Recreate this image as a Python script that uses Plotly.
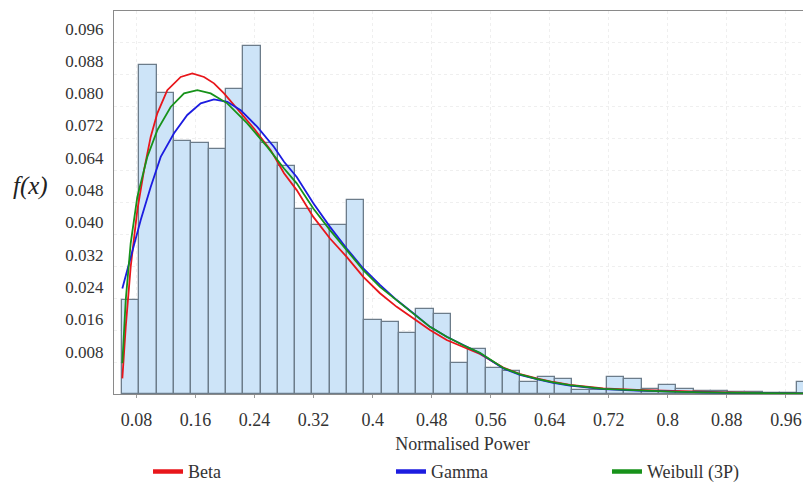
import plotly.graph_objects as go

# ---------------- data ----------------
bin_start = 0.0603
bin_width = 0.02347
bar_heights = [0.0235, 0.0823, 0.0754, 0.0633, 0.0627, 0.0614, 0.0764, 0.0870,
               0.0627, 0.0570, 0.0464, 0.0423, 0.0423, 0.0485, 0.0185, 0.0179,
               0.0153, 0.0212, 0.0200, 0.0078, 0.0112, 0.0064, 0.0058, 0.0031,
               0.0042, 0.0038, 0.0010, 0.0010, 0.0042, 0.0038, 0.0013, 0.0023,
               0.0013, 0.0008, 0.0007, 0.0005, 0.0004, 0.0003, 0.0002, 0.0029]

beta_x = [0.0608, 0.0654, 0.0721, 0.0811, 0.0902, 0.0992, 0.1082, 0.1217, 0.1399,
          0.1556, 0.1715, 0.1850, 0.1986, 0.2166, 0.2392, 0.2618, 0.2799, 0.2971,
          0.3196, 0.3422, 0.3648, 0.3873, 0.4099, 0.4326, 0.4551, 0.4777, 0.5003,
          0.5228, 0.5454, 0.5770, 0.5997, 0.6223, 0.6448, 0.6674, 0.7125, 0.7578,
          0.8029, 0.8480, 0.8933, 0.9384, 0.9835, 1.0]
beta_y = [0.0039, 0.0168, 0.0318, 0.0460, 0.0560, 0.0643, 0.0702, 0.0760, 0.0793,
          0.0802, 0.0793, 0.0777, 0.0752, 0.0714, 0.0664, 0.0610, 0.0552, 0.0510,
          0.0443, 0.0389, 0.0343, 0.0293, 0.0252, 0.0218, 0.0189, 0.0160, 0.0135,
          0.0118, 0.0100, 0.0066, 0.0050, 0.0039, 0.0030, 0.0023, 0.0014, 0.0010,
          0.00075, 0.00052, 0.00034, 0.00024, 0.00017, 0.00015]

gamma_x = [0.0608, 0.0721, 0.0857, 0.0992, 0.1128, 0.1308, 0.1488, 0.1670, 0.1850,
           0.2030, 0.2212, 0.2437, 0.2663, 0.2799, 0.2971, 0.3196, 0.3422, 0.3648,
           0.3873, 0.4099, 0.4326, 0.4551, 0.4777, 0.5003, 0.5228, 0.5454, 0.5770,
           0.5997, 0.6223, 0.6448, 0.6674, 0.7125, 0.7578, 0.8029, 0.8480, 0.8933,
           0.9384, 0.9835, 1.0]
gamma_y = [0.0264, 0.0343, 0.0435, 0.0518, 0.0593, 0.0652, 0.0698, 0.0727, 0.0737,
           0.0731, 0.0710, 0.0668, 0.0618, 0.0581, 0.0543, 0.0477, 0.0418, 0.0364,
           0.0314, 0.0273, 0.0235, 0.0202, 0.0168, 0.0143, 0.0123, 0.0102, 0.0064,
           0.0048, 0.0037, 0.0028, 0.0021, 0.0012, 0.00085, 0.00058, 0.0004, 0.00028,
           0.0002, 0.00014, 0.00012]

weibull_x = [0.0608, 0.0654, 0.0721, 0.0811, 0.0946, 0.1082, 0.1263, 0.1444, 0.1624,
             0.1805, 0.2030, 0.2301, 0.2572, 0.2799, 0.2971, 0.3196, 0.3422, 0.3648,
             0.3873, 0.4099, 0.4326, 0.4551, 0.4777, 0.5003, 0.5228, 0.5454, 0.5770,
             0.5997, 0.6223, 0.6448, 0.6674, 0.7125, 0.7578, 0.8029, 0.8480, 0.8933,
             0.9384, 0.9835, 1.0]
weibull_y = [0.0077, 0.0235, 0.0377, 0.0493, 0.0593, 0.0660, 0.0718, 0.0752, 0.0760,
             0.0752, 0.0727, 0.0677, 0.0618, 0.0564, 0.0527, 0.0464, 0.0410, 0.0360,
             0.0310, 0.0268, 0.0234, 0.0201, 0.0168, 0.0143, 0.0122, 0.0103, 0.0065,
             0.0049, 0.0038, 0.0029, 0.0022, 0.0013, 0.0009, 0.0006, 0.0004, 0.00027,
             0.00018, 0.00012, 0.0001]

x_tick_vals = [0.08, 0.16, 0.24, 0.32, 0.40, 0.48, 0.56, 0.64, 0.72, 0.80, 0.88, 0.96]
x_tick_text = ["0.08", "0.16", "0.24", "0.32", "0.4", "0.48", "0.56", "0.64",
               "0.72", "0.8", "0.88", "0.96"]
# tick labels as printed in the original (placed where they appear)
y_tick_vals = [0.0106, 0.0187, 0.0267, 0.0348, 0.0429, 0.0510, 0.0591, 0.0672,
               0.0753, 0.0833, 0.0914]
y_tick_text = ["0.008", "0.016", "0.024", "0.032", "0.040", "0.048", "0.064",
               "0.072", "0.080", "0.088", "0.096"]

series_names = ["Beta", "Gamma", "Weibull (3P)"]
series_colors = ["#e8161b", "#1c1ce0", "#17921a"]

# ---------------- figure ----------------
FONT = "Liberation Serif, Times New Roman, serif"
bin_centers = [bin_start + bin_width * (i + 0.5) for i in range(len(bar_heights))]

fig = go.Figure()
fig.add_trace(go.Bar(
    x=bin_centers, y=bar_heights, width=bin_width,
    marker=dict(color="#cde4f8", line=dict(color="#6c7c8a", width=1.3)),
    showlegend=False, hoverinfo="skip"))

curves = [(beta_x, beta_y), (gamma_x, gamma_y), (weibull_x, weibull_y)]
for (cx, cy), name, col in zip(curves, series_names, series_colors):
    fig.add_trace(go.Scatter(x=cx, y=cy, mode="lines", name=name,
                             line=dict(color=col, width=1.8),
                             showlegend=False))

legend_ids = ["legend", "legend2", "legend3"]
legend_x = [0.0488, 0.3974, 0.7073]
for name, col, lid in zip(series_names, series_colors, legend_ids):
    fig.add_trace(go.Scatter(x=[None], y=[None], mode="lines", name=name,
                             line=dict(color=col, width=4.5), legend=lid))

leg_common = dict(orientation="h", yanchor="middle", y=-0.203, xanchor="left",
                  bgcolor="rgba(0,0,0,0)", borderwidth=0,
                  font=dict(family=FONT, size=18, color="#333333"))

# the page body adds an 8px offset, so the figure is 8px smaller on each side
fig.update_layout(
    width=803, height=475,
    margin=dict(l=106, r=0, t=3, b=89, autoexpand=False),
    paper_bgcolor="white", plot_bgcolor="white",
    bargap=0,
    font=dict(family=FONT, size=17, color="#333333"),
    legend=dict(x=legend_x[0], **leg_common),
    legend2=dict(x=legend_x[1], **leg_common),
    legend3=dict(x=legend_x[2], **leg_common),
    xaxis=dict(range=[0.0495, 0.994], tickvals=x_tick_vals, ticktext=x_tick_text,
               automargin=False,
               showline=True, linecolor="#8a8a8a", linewidth=1.2, mirror=True,
               showgrid=True, gridcolor="#efefef", griddash="dot", zeroline=False,
               ticks="outside", ticklen=3, tickcolor="#9a9a9a",
               ticklabelstandoff=6,
               tickfont=dict(family=FONT, size=18, color="#333333"),
               title=dict(text="Normalised Power", standoff=8,
                          font=dict(family=FONT, size=18, color="#333333"))),
    yaxis=dict(range=[0, 0.0958], tickvals=y_tick_vals, ticktext=y_tick_text,
               automargin=False,
               showline=True, linecolor="#8a8a8a", linewidth=1.2,
               showgrid=False, zeroline=False, ticks="", ticklabelstandoff=6,
               tickfont=dict(family=FONT, size=17, color="#333333"),
               minor=dict(dtick=0.008, tick0=0, showgrid=True, gridcolor="#efefef",
                          griddash="dot", ticks="")),
)

fig.add_annotation(text="<i>f(x)</i>", xref="paper", yref="paper",
                   x=-0.1205, y=0.543, xanchor="center", yanchor="middle",
                   showarrow=False, font=dict(family=FONT, size=25, color="#222222"))

fig.write_html("out.html")
